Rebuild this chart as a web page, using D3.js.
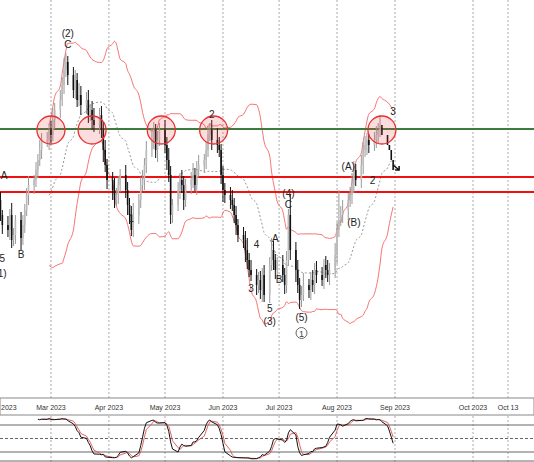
<!DOCTYPE html>
<html><head><meta charset="utf-8">
<script src="https://cdn.jsdelivr.net/npm/d3@7"></script>
<style>body{margin:0;background:#fff}svg{display:block;font-family:"Liberation Sans",Arial,sans-serif}</style>
</head><body>
<svg id="chart" width="534" height="462"></svg>
<script>
// daily closes, Feb 1 - Aug 31 2023 (weekdays)
const closes = [200,185,175, 170,185,160,165,180, 162,175,190,205,215, 220,230,240,250,260,
  260,270,265,280,290, 300,315,330,338,325, 310,320,300,305,295, 300,285,290,280,275,
  285,270,250,235,220, 210,200,205,215,225, 210,195,185,170,185, 200,215,220,235,250,
  260,270,250,260,270, 255,240,225,185,195, 210,220,215,200,215, 220,225,215,230,235,
  240,250,265,270,260, 255,250,225,210,205, 200,195,185,175,165, 160,150,140,130,125,
  115,120,110,125,105, 135,150,140,130,135, 125,115,140,185,150, 130,115,100,105,115,
  110,120,115,130,125, 120,135,130,125,130, 145,170,180,185,190, 200,205,215,230,220,
  235,250,255,260,255, 260,265,270,275,265, 255,250,240,230];
const wickUp = [6,8,5, 9,6,12,7,5, 8,10,6,7,9, 5,8,6,10,7, 8,6,9,12,7, 10,8,12,9,6, 8,10,7,12,9, 8,10,6,9,12,
  7,9,8,10,6, 8,12,7,9,6, 10,8,7,9,12, 6,8,10,7,9, 12,8,6,9,7, 10,8,12,9,6, 8,7,10,9,6,
  8,12,7,9,10, 6,8,9,7,10, 12,8,6,9,7, 8,10,7,9,6, 8,9,12,7,10, 6,8,9,7,10, 8,12,9,6,8,
  10,7,9,6,20, 8,10,7,9,12, 6,8,10,7,9, 8,6,9,10,7, 12,8,30,9,10, 7,8,12,9,6, 10,8,9,7,6, 8,9,7,10];
const wickDn = [8,6,9, 7,10,8,6,9, 12,7,8,6,10, 9,7,8,6,9, 7,10,8,6,9, 8,6,9,7,10, 8,9,7,6,10, 9,8,6,10,7,
  9,8,12,7,9, 10,8,6,9,7, 8,10,9,6,7, 9,8,6,10,8, 7,9,8,12,6, 8,10,7,9,8, 6,9,8,10,7,
  9,8,6,10,7, 8,9,7,6,10, 8,7,9,12,8, 9,6,8,10,7, 8,12,9,7,6, 10,8,9,12,7, 8,6,10,9,8,
  7,9,8,6,10, 12,8,9,7,6, 8,10,7,9,8, 6,9,8,7,10, 8,9,7,6,8, 10,7,9,8,6, 8,9,7,10,8, 6,8,9,7];
const levelGreen = 271, levelRed = [223, 208];
const circleDates = ["2023-03-01","2023-03-23","2023-04-29","2023-05-27","2023-08-25"];
const monthTicks = [["2023-02-01","2023"],["2023-03-01","Mar 2023"],["2023-04-01","Apr 2023"],["2023-05-01","May 2023"],
  ["2023-06-01","Jun 2023"],["2023-07-01","Jul 2023"],["2023-08-01","Aug 2023"],["2023-09-01","Sep 2023"],
  ["2023-10-01","Oct 2023"],["2023-10-13","Oct 13"]];
const waveLabels = [["2023-03-10",363,"(2)"],["2023-03-10",352,"C"],["2023-02-04",221,"A"],["2023-02-03",138,"5"],
  ["2023-02-13",142,"B"],["2023-02-02",123,"(1)"],["2023-04-13",178,"1"],["2023-05-26",282,"2"],
  ["2023-07-06",203,"(4)"],["2023-07-06",192,"C"],["2023-06-19",152,"4"],["2023-06-29",158,"A"],
  ["2023-06-16",108,"3"],["2023-07-01",117,"B"],["2023-06-26",88,"5"],["2023-06-26",75,"(3)"],
  ["2023-07-13",79,"(5)"],["2023-08-07",230,"(A)"],["2023-08-10",174,"(B)"],["2023-08-20",216,"2"],["2023-08-31",285,"3"]];

const parse = d3.timeParse("%Y-%m-%d");
const dates = d3.timeDay.range(parse("2023-02-01"), parse("2023-09-01")).filter(d => d.getDay() > 0 && d.getDay() < 6);
const bars = closes.map((c, i) => {
  const o = i ? closes[i - 1] : c;
  return {date: dates[i], o, c, h: Math.max(o, c) + wickUp[i], l: Math.min(o, c) - wickDn[i]};
});

const svg = d3.select("#chart");
const x = d3.scaleTime()
  .domain([parse("2023-02-01"), parse("2023-09-01"), parse("2023-10-01"), parse("2023-10-13"), parse("2023-10-25")])
  .range([-1.4, 395, 473, 508, 540]);
const y = d3.scaleLinear().domain([0, 400]).range([400, 0]);
const ys = d3.scaleLinear().domain([0, 100]).range([461, 416]);

// grid
monthTicks.forEach(([d]) => {
  svg.append("line").attr("x1", x(parse(d))).attr("x2", x(parse(d))).attr("y1", 0).attr("y2", 462)
    .attr("stroke", "#aaa").attr("stroke-dasharray", "2,2");
});

// bollinger 20,2
const bb = bars.map((b, i) => {
  if (i < 19) return null;
  const w = closes.slice(i - 19, i + 1), m = d3.mean(w), s = d3.deviation(w) * Math.sqrt(19 / 20);
  return {date: b.date, m, u: m + 2 * s, lo: m - 2 * s};
}).filter(Boolean);
const ln = k => d3.line().x(d => x(d.date)).y(d => y(d[k])).curve(d3.curveMonotoneX);
svg.append("path").datum(bb).attr("d", ln("u")).attr("fill", "none").attr("stroke", "#f25050").attr("stroke-width", 0.8);
svg.append("path").datum(bb).attr("d", ln("lo")).attr("fill", "none").attr("stroke", "#f25050").attr("stroke-width", 0.8);
svg.append("path").datum(bb).attr("d", ln("m")).attr("fill", "none").attr("stroke", "#999").attr("stroke-dasharray", "2,2");

// levels
svg.append("line").attr("x1", 0).attr("x2", 534).attr("y1", y(levelGreen)).attr("y2", y(levelGreen)).attr("stroke", "#3d7a3d").attr("stroke-width", 2);
levelRed.forEach(v => svg.append("line").attr("x1", 0).attr("x2", 534).attr("y1", y(v)).attr("y2", y(v)).attr("stroke", "#f01010").attr("stroke-width", 2));

// candles
const g = svg.append("g");
g.selectAll("line").data(bars).join("line")
  .attr("x1", d => x(d.date)).attr("x2", d => x(d.date)).attr("y1", d => y(d.h)).attr("y2", d => y(d.l))
  .attr("stroke", d => d.c >= d.o ? "#999" : "#111");
g.selectAll("rect").data(bars).join("rect")
  .attr("x", d => x(d.date) - 0.8).attr("width", 1.6)
  .attr("y", d => y(Math.max(d.o, d.c))).attr("height", d => Math.max(1, Math.abs(y(d.o) - y(d.c))))
  .attr("fill", d => d.c >= d.o ? "#bbb" : "#111");

// circles
circleDates.forEach(d => {
  svg.append("circle").attr("cx", x(parse(d))).attr("cy", y(levelGreen) + 1).attr("r", 14)
    .attr("fill", "rgba(240,60,60,0.18)").attr("stroke", "#e83030").attr("stroke-width", 1.3);
});

// wave labels
waveLabels.forEach(([d, v, t]) => {
  svg.append("text").attr("x", x(parse(d))).attr("y", y(v)).attr("text-anchor", "middle")
    .attr("font-size", 10).attr("fill", "#222").text(t);
});
svg.append("circle").attr("cx", x(parse("2023-07-13"))).attr("cy", 333).attr("r", 5.5).attr("fill", "none").attr("stroke", "#666");
svg.append("text").attr("x", x(parse("2023-07-13"))).attr("y", 336.5).attr("text-anchor", "middle").attr("font-size", 9).attr("fill", "#444").text("1");
svg.append("path").attr("d", `M${x(parse("2023-08-31"))},${y(235)} l6,5 m-4,0 l4,0 l0,-4`).attr("stroke", "#111").attr("stroke-width", 1.5).attr("fill", "none");

// x axis strip
svg.append("rect").attr("x", 0).attr("y", 398).attr("width", 534).attr("height", 17).attr("fill", "#fff").attr("stroke", "#888");
monthTicks.forEach(([d, t], i) => {
  svg.append("text").attr("x", i ? x(parse(d)) : 1).attr("y", 410).attr("text-anchor", i ? "middle" : "start")
    .attr("font-size", 7).attr("fill", "#333").text(t);
});

// slow stochastic 14,3,3
const raw = bars.map((b, i) => {
  if (i < 13) return null;
  const w = bars.slice(i - 13, i + 1), hh = d3.max(w, d => d.h), ll = d3.min(w, d => d.l);
  return {date: b.date, v: 100 * (b.c - ll) / (hh - ll)};
}).filter(Boolean);
const sma = a => a.map((k, i) => i < 2 ? null : {date: k.date, v: d3.mean(a.slice(i - 2, i + 1), d => d.v)}).filter(Boolean);
const K = sma(raw), D = sma(K);
[[80, "0"], [50, "3,2"], [20, "0"]].forEach(([v, da]) => svg.append("line").attr("x1", 0).attr("x2", 534)
  .attr("y1", ys(v)).attr("y2", ys(v)).attr("stroke", "#666").attr("stroke-dasharray", da));
const sl = d3.line().x(d => x(d.date)).y(d => ys(d.v));
svg.append("path").datum(D).attr("d", sl).attr("fill", "none").attr("stroke", "#e05050").attr("stroke-width", 0.9);
svg.append("path").datum(K).attr("d", sl).attr("fill", "none").attr("stroke", "#111").attr("stroke-width", 1);
svg.append("line").attr("x1", 0).attr("x2", 534).attr("y1", 461).attr("y2", 461).attr("stroke", "#666");
</script>
</body></html>
